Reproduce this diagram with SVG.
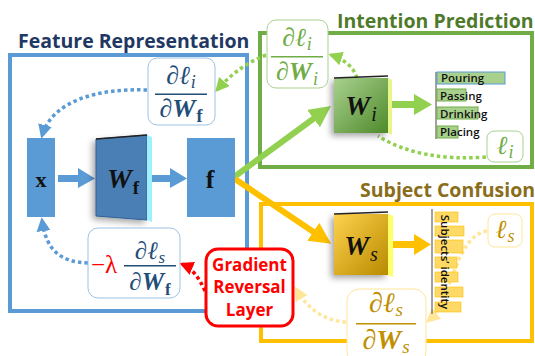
<svg xmlns="http://www.w3.org/2000/svg" width="535" height="356" viewBox="0 0 535 356">
<style>
.title{font-family:"Open Sans","Liberation Sans",sans-serif;font-weight:bold;font-size:19.5px}
.m{font-family:"Liberation Serif","DejaVu Serif",serif;font-style:italic}
.mb{font-family:"Liberation Serif","DejaVu Serif",serif;font-weight:bold;font-style:italic}
.up{font-family:"Liberation Serif","DejaVu Serif",serif;font-weight:bold;font-style:normal}
.b{font-weight:bold}
.n{font-style:normal}
.lbl{font-family:"Open Sans","Liberation Sans",sans-serif;font-weight:600;font-size:11.5px;fill:#111}
.grl{font-family:"Open Sans","Liberation Sans",sans-serif;font-weight:bold;font-size:17px;fill:#ff0000}
.dot{fill:none;stroke-width:3.5;stroke-dasharray:3.5 3}
</style>
<defs>
<marker id="ab" viewBox="0 0 10 10" refX="8" refY="5" markerWidth="4" markerHeight="4" orient="auto"><path d="M0,0L10,5L0,10z" fill="#5b9bd5"/></marker>
<marker id="ag" viewBox="0 0 10 10" refX="8" refY="5" markerWidth="4" markerHeight="4" orient="auto"><path d="M0,0L10,5L0,10z" fill="#92d050"/></marker>
<marker id="ay" viewBox="0 0 10 10" refX="8" refY="5" markerWidth="4" markerHeight="4" orient="auto"><path d="M0,0L10,5L0,10z" fill="#ffe699"/></marker>
<marker id="ar" viewBox="0 0 10 10" refX="8" refY="5" markerWidth="4" markerHeight="4" orient="auto"><path d="M0,0L10,5L0,10z" fill="#ff0000"/></marker>
<marker id="tg" viewBox="0 0 10 10" refX="6" refY="5" markerWidth="3.6" markerHeight="3.6" orient="auto"><path d="M0,0L10,5L0,10z" fill="#92d050"/></marker>
<marker id="to" viewBox="0 0 10 10" refX="6" refY="5" markerWidth="3.6" markerHeight="3.6" orient="auto"><path d="M0,0L10,5L0,10z" fill="#ffc000"/></marker>
<linearGradient id="gW" x1="0" y1="0" x2="1" y2="1"><stop offset="0" stop-color="#a9d18e"/><stop offset="1" stop-color="#4e8a2a"/></linearGradient>
<linearGradient id="gS" x1="0" y1="0" x2="1" y2="1"><stop offset="0" stop-color="#ffd24d"/><stop offset="1" stop-color="#b88a00"/></linearGradient>
<filter id="sh" x="-30%" y="-30%" width="160%" height="160%"><feDropShadow dx="-3" dy="3" stdDeviation="3" flood-color="#000" flood-opacity="0.35"/></filter>
</defs>

<!-- Frames -->
<g id="feature-representation">
<rect x="10" y="55" width="237" height="256" fill="none" stroke="#5b9bd5" stroke-width="4"/>
<text class="title" x="18" y="48" fill="#1f3864">Feature Representation</text>
</g>
<g id="intention-prediction">
<rect x="260" y="33" width="272" height="134" fill="none" stroke="#70ad47" stroke-width="4"/>
<text class="title" x="337" y="28" fill="#4e7a2a">Intention Prediction</text>
</g>
<g id="subject-confusion">
<rect x="261" y="204" width="271" height="137" fill="none" stroke="#ffc000" stroke-width="4"/>
<text class="title" x="360" y="197" fill="#8a6d1a">Subject Confusion</text>
</g>

<!-- Connectors -->
<g id="connectors">
<polygon points="58,175 78,175 78,168 95,178.5 78,188 78,182 58,182" fill="#5b9bd5"/>
<polygon points="152,175 170,175 170,168 187,178.5 170,188 170,182 152,182" fill="#5b9bd5"/>
<line x1="234" y1="177" x2="324" y2="111" stroke="#92d050" stroke-width="6" marker-end="url(#tg)"/>
<line x1="235" y1="179" x2="324" y2="239" stroke="#ffc000" stroke-width="6" marker-end="url(#to)"/>
<polygon points="392,101 414,101 414,94 432,104.5 414,115 414,108 392,108" fill="#92d050"/>
<polygon points="392,241 414,241 414,234 431,244.5 414,255 414,248 392,248" fill="#ffc000"/>
<path class="dot" d="M486,157 Q420,162 378,136" stroke="#92d050"/>
<path class="dot" d="M357,78 Q352,62 331,55" stroke="#92d050" marker-end="url(#ag)"/>
<path class="dot" d="M266,55 Q238,66 217,90" stroke="#92d050" marker-end="url(#ag)"/>
<path class="dot" d="M147,90 C100,88 52,100 42,136" stroke="#5b9bd5" marker-end="url(#ab)"/>
<path class="dot" d="M88,263 C60,262 46,250 42,220" stroke="#5b9bd5" marker-end="url(#ab)"/>
<path class="dot" d="M205,291 Q196,270 182,264" stroke="#ff0000" marker-end="url(#ar)"/>
<path class="dot" d="M487,231 C455,236 452,300 428,321" stroke="#ffe699" marker-end="url(#ay)"/>
<path class="dot" d="M346,322 Q314,320 296,289" stroke="#ffe699" marker-end="url(#ay)"/>
</g>

<!-- Nodes -->
<g id="node-x">
<rect x="27" y="138" width="28" height="79" fill="#5b9bd5"/>
<text class="up" x="41" y="187" font-size="22" text-anchor="middle" fill="#111">x</text>
</g>
<g id="node-Wf">
<polygon points="96,139 147,135 147,220 96,216" fill="#4a7fb5" stroke="#2f5f95" stroke-width="1" filter="url(#sh)"/>
<polygon points="147,135 152,137 152,222 147,220" fill="#9ff0ff"/>
<line x1="96" y1="139" x2="147" y2="135" stroke="#222" stroke-width="1.5"/>
<text class="mb" x="123" y="188" font-size="28" fill="#111" text-anchor="middle">W<tspan class="n" font-size="19" dy="6" dx="1">f</tspan></text>
</g>
<g id="node-f">
<rect x="187" y="138" width="48" height="79" fill="#5b9bd5"/>
<text class="up" x="210" y="188" font-size="26" text-anchor="middle" fill="#111">f</text>
</g>
<g id="node-Wi">
<rect x="334" y="78" width="54" height="55" fill="url(#gW)" filter="url(#sh)"/>
<polygon points="388,78 392,80 392,135 388,133" fill="#e8f58a"/>
<line x1="334" y1="78" x2="388" y2="76" stroke="#222" stroke-width="1.5"/>
<text class="mb" x="361" y="115" font-size="28" fill="#111" text-anchor="middle">W<tspan font-weight="normal" font-size="20" dy="6" dx="1">i</tspan></text>
</g>
<g id="node-Ws">
<rect x="334" y="214" width="54" height="61" fill="url(#gS)" filter="url(#sh)"/>
<polygon points="388,214 393,216 393,277 388,275" fill="#ffff66"/>
<line x1="334" y1="214" x2="388" y2="212" stroke="#222" stroke-width="1.5"/>
<text class="mb" x="361" y="255" font-size="28" fill="#111" text-anchor="middle">W<tspan font-weight="normal" font-size="20" dy="6" dx="1">s</tspan></text>
</g>
<g id="node-intentions">
<line x1="436" y1="72" x2="436" y2="139" stroke="#444" stroke-width="1"/>
<rect x="437" y="72" width="68" height="12" fill="#a9d18e" stroke="#5b9bd5" stroke-width="1"/>
<rect x="437" y="89" width="29" height="12" fill="#a9d18e" stroke="#70ad47" stroke-width="1"/>
<rect x="437" y="107" width="41" height="12" fill="#a9d18e" stroke="#70ad47" stroke-width="1"/>
<rect x="437" y="126" width="21" height="12" fill="#a9d18e" stroke="#70ad47" stroke-width="1"/>
<text class="lbl" x="441" y="82">Pouring</text>
<text class="lbl" x="440" y="100">Passing</text>
<text class="lbl" x="440" y="118">Drinking</text>
<text class="lbl" x="440" y="136">Placing</text>
</g>
<g id="node-subjects">
<line x1="432" y1="209" x2="432" y2="314" stroke="#444" stroke-width="1"/>
<g fill="#ffd966" stroke="#ffc000" stroke-width="0.6">
<rect x="435" y="212" width="23" height="10"/>
<rect x="435" y="226" width="29" height="10"/>
<rect x="435" y="240" width="28" height="13"/>
<rect x="435" y="257" width="22" height="11"/>
<rect x="435" y="272" width="23" height="10"/>
<rect x="435" y="287" width="28" height="10"/>
<rect x="435" y="302" width="26" height="10"/>
</g>
<text class="lbl" transform="translate(441,262) rotate(90)" text-anchor="middle">Subjects’ identity</text>
</g>
<g id="node-li">
<rect x="487" y="131" width="36" height="31" rx="7" fill="#fff" stroke="#a9d18e" stroke-width="1"/>
<text class="m" x="505" y="154" font-size="26" fill="#70ad47" text-anchor="middle">ℓ<tspan font-size="18" dy="4" dx="1">i</tspan></text>
</g>
<g id="node-ls">
<rect x="488" y="214" width="34" height="33" rx="7" fill="#fff" stroke="#ffe699" stroke-width="1"/>
<text class="m" x="505" y="238" font-size="26" fill="#bf9000" text-anchor="middle">ℓ<tspan font-size="18" dy="4" dx="1">s</tspan></text>
</g>
<g id="node-dli-dWi">
<rect x="267" y="20" width="61" height="68" rx="9" fill="#fff" stroke="#a9d18e" stroke-width="1"/>
<g fill="#70ad47">
<text class="m" x="297" y="46" font-size="26" text-anchor="middle">∂ℓ<tspan font-size="18" dy="4" dx="1">i</tspan></text>
<rect x="271" y="56" width="52" height="1.5"/>
<text class="m" x="297" y="80" font-size="26" text-anchor="middle">∂<tspan class="b">W</tspan><tspan font-size="18" dy="5" dx="1">i</tspan></text>
</g>
</g>
<g id="node-dli-dWf">
<rect x="148" y="58" width="67" height="67" rx="9" fill="#fff" stroke="#9dc3e6" stroke-width="1"/>
<g fill="#1f4e79">
<text class="m" x="181" y="84" font-size="26" text-anchor="middle">∂ℓ<tspan font-size="18" dy="4" dx="1">i</tspan></text>
<rect x="155" y="93.5" width="52" height="1.5"/>
<text class="m" x="181" y="117" font-size="26" text-anchor="middle">∂<tspan class="b">W</tspan><tspan class="b n" font-size="18" dy="5" dx="1">f</tspan></text>
</g>
</g>
<g id="node-lambda">
<rect x="88" y="228" width="92" height="70" rx="10" fill="#fff" stroke="#9dc3e6" stroke-width="1"/>
<text class="m n" x="91" y="273" font-size="25" fill="#ff0000">−λ</text>
<g fill="#1f4e79">
<text class="m" x="150" y="259" font-size="25" text-anchor="middle">∂ℓ<tspan font-size="17" dy="4" dx="1">s</tspan></text>
<rect x="124" y="265" width="52" height="1.5"/>
<text class="m" x="150" y="290" font-size="25" text-anchor="middle">∂<tspan class="b">W</tspan><tspan class="b n" font-size="17" dy="5" dx="1">f</tspan></text>
</g>
</g>
<g id="node-grl">
<rect x="206" y="249" width="87" height="77" rx="12" fill="#fff" stroke="#ff0000" stroke-width="3"/>
<text class="grl" x="249.5" y="271" text-anchor="middle">Gradient</text>
<text class="grl" x="249.5" y="293" text-anchor="middle">Reversal</text>
<text class="grl" x="249.5" y="316" text-anchor="middle">Layer</text>
</g>
<g id="node-dls-dWs">
<rect x="347" y="289" width="79" height="75" rx="12" fill="#fff" stroke="#ffe699" stroke-width="1"/>
<g fill="#bf9000">
<text class="m" x="386" y="312" font-size="28" text-anchor="middle">∂ℓ<tspan font-size="19" dy="4" dx="1">s</tspan></text>
<rect x="356" y="323" width="60" height="1.5"/>
<text class="m" x="386" y="349" font-size="28" text-anchor="middle">∂<tspan class="b">W</tspan><tspan font-size="19" dy="4" dx="1">s</tspan></text>
</g>
</g>
</svg>
